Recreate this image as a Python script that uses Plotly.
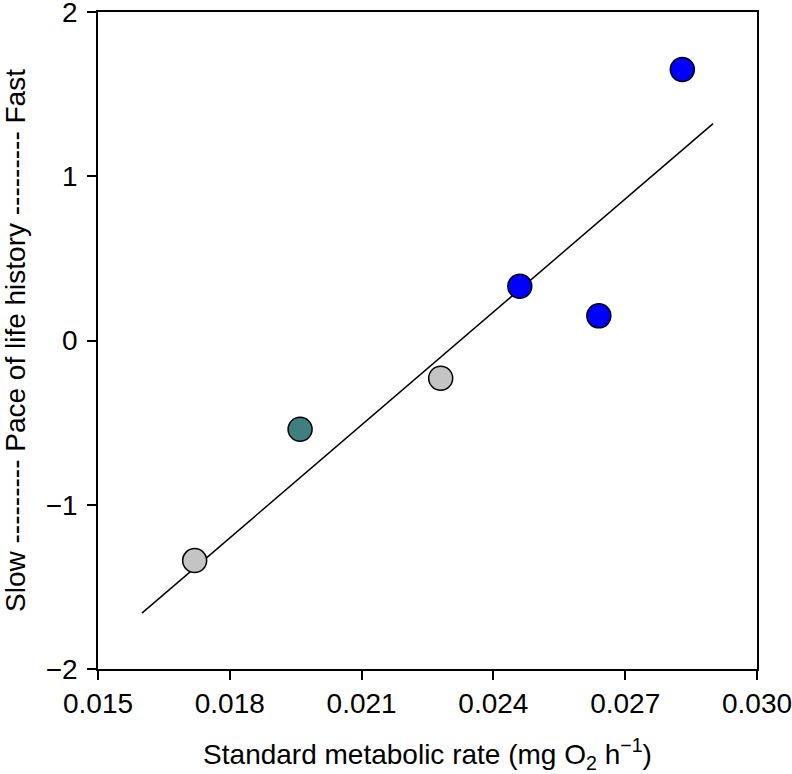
import plotly.graph_objects as go

# Data
smr = [0.0172, 0.0196, 0.0228, 0.0246, 0.0264, 0.0283]
pace = [-1.34, -0.54, -0.23, 0.33, 0.15, 1.65]
point_colors = ["#c4c4c4", "#3f7f7f", "#c4c4c4", "#0000ff", "#0000ff", "#0000ff"]

fit_x = [0.016, 0.029]
fit_y = [-1.66, 1.32]

x_ticks = [0.015, 0.018, 0.021, 0.024, 0.027, 0.030]
x_ticklabels = ["0.015", "0.018", "0.021", "0.024", "0.027", "0.030"]
y_ticks = [-2, -1, 0, 1, 2]
y_ticklabels = ["\u22122", "\u22121", "0", "1", "2"]

FONT = "Liberation Sans, Arial, Helvetica, sans-serif"

fig = go.Figure()
fig.add_trace(go.Scatter(
    x=fit_x, y=fit_y, mode="lines",
    line=dict(color="black", width=1.5),
    showlegend=False, hoverinfo="skip",
))
fig.add_trace(go.Scatter(
    x=smr, y=pace, mode="markers",
    marker=dict(size=24, color=point_colors, line=dict(color="black", width=1.5)),
    showlegend=False,
))

axis_common = dict(
    showline=True, linecolor="black", linewidth=1.5, mirror=True,
    ticks="outside", ticklen=9, tickwidth=1.5, tickcolor="black",
    showgrid=False, zeroline=False, automargin=False,
    ticklabeloverflow="allow",
    tickfont=dict(family=FONT, size=28, color="black"),
)

fig.update_xaxes(
    range=[0.015, 0.030], tickvals=x_ticks, ticktext=x_ticklabels,
    title=dict(text="Standard metabolic rate (mg O<sub>2</sub> h<sup>\u22121</sup>)",
               font=dict(family=FONT, size=28, color="black"), standoff=29),
    ticklabelstandoff=0,
    **axis_common,
)
fig.update_yaxes(
    range=[-2, 2], tickvals=y_ticks, ticktext=y_ticklabels,
    title=dict(text="Slow --------- Pace of life history --------- Fast",
               font=dict(family=FONT, size=28, color="black"), standoff=32),
    ticklabelstandoff=4,
    **axis_common,
)

fig.update_layout(
    width=792, height=774,
    margin=dict(l=98, r=35, t=12, b=104.5),
    plot_bgcolor="white", paper_bgcolor="white",
    font=dict(family=FONT, color="black"),
)

# remove the page's default body margin so the figure fills the window exactly
fig.write_html("out.html", config={"displayModeBar": False},
               post_script="document.body.style.margin='0';")
